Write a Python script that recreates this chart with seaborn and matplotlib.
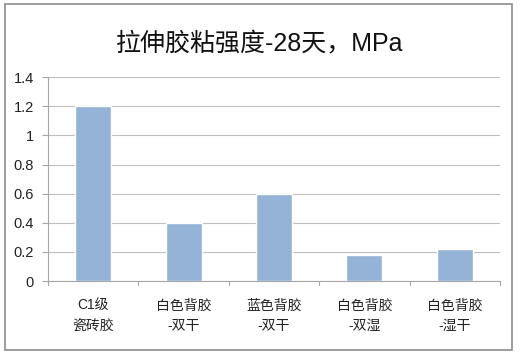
import matplotlib as mpl
mpl.use('Agg')
import matplotlib.pyplot as plt
import seaborn as sns
import pandas as pd

categories = ['C1级\n瓷砖胶', '白色背胶\n-双干', '蓝色背胶\n-双干', '白色背胶\n-双湿', '白色背胶\n-湿干']
values = [1.2, 0.4, 0.6, 0.18, 0.22]
yticks = [0, 0.2, 0.4, 0.6, 0.8, 1, 1.2, 1.4]
ytick_labels = ['0', '0.2', '0.4', '0.6', '0.8', '1', '1.2', '1.4']

sns.set_style('white')
plt.rcParams['font.family'] = ['Liberation Sans', 'Noto Sans CJK SC', 'DejaVu Sans']

df = pd.DataFrame({'cat': categories, 'val': values})

fig = plt.figure(figsize=(5.2, 3.54), dpi=100)
ax = fig.add_axes([0.0923, 0.206, 0.8692, 0.576])
sns.barplot(data=df, x='cat', y='val', color='#95b3d7', saturation=1, width=0.4, ax=ax)

ax.set_ylim(0, 1.4)
ax.set_xlim(-0.5, len(categories) - 0.5)
ax.set_yticks(yticks)
ax.set_yticklabels(ytick_labels, fontsize=10.5, color='#222222')
ax.set_xticks(range(len(categories)))
ax.set_xticklabels(categories, fontsize=10, color='#222222', linespacing=1.6)
ax.set_xlabel('')
ax.set_ylabel('')
ax.yaxis.grid(True, color='#bfbfbf', lw=0.8)
ax.set_axisbelow(True)
for s in ['top', 'right']:
    ax.spines[s].set_visible(False)
ax.spines['left'].set_color('#a6a6a6')
ax.spines['bottom'].set_color('#a6a6a6')
ax.tick_params(axis='y', left=True, length=4, color='#a6a6a6', pad=6)
ax.tick_params(axis='x', bottom=False, pad=9)
# category boundary ticks
for b in [i - 0.5 for i in range(len(categories) + 1)]:
    ax.plot([b, b], [0, -0.025], color='#a6a6a6', lw=0.8, clip_on=False)

fig.text(0.5, 0.878, '拉伸胶粘强度-28天，MPa', ha='center', va='center', fontsize=18,
         fontweight='medium', color='#111111')
fig.patches.append(mpl.patches.Rectangle((0.01, 0.012), 0.975, 0.978, transform=fig.transFigure,
                                         fill=False, edgecolor='#8c8c8c', lw=1.2))

fig.savefig('out.png', dpi=100)
